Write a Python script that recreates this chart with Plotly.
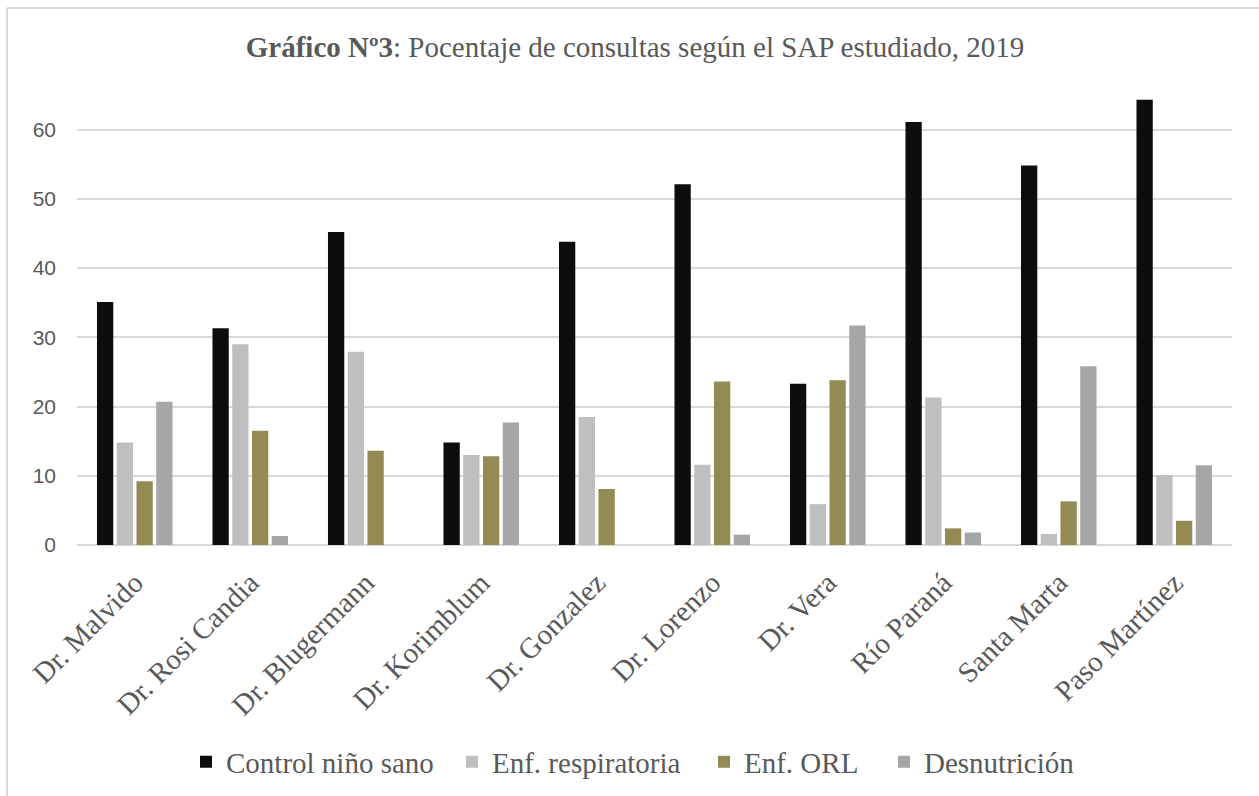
import plotly.graph_objects as go

categories = ["Dr. Malvido", "Dr. Rosi Candia", "Dr. Blugermann", "Dr. Korimblum",
              "Dr. Gonzalez", "Dr. Lorenzo", "Dr. Vera", "Río Paraná",
              "Santa Marta", "Paso Martínez"]
control_nino_sano = [35.1, 31.3, 45.2, 14.8, 43.8, 52.1, 23.3, 61.1, 54.8, 64.3]
enf_respiratoria = [14.8, 29.0, 27.9, 13.0, 18.5, 11.6, 5.9, 21.3, 1.6, 10.1]
enf_orl = [9.2, 16.5, 13.6, 12.8, 8.1, 23.6, 23.8, 2.4, 6.3, 3.5]
desnutricion = [20.7, 1.3, 0, 17.7, 0, 1.5, 31.7, 1.8, 25.8, 11.5]

series_names = ["Control niño sano", "Enf. respiratoria", "Enf. ORL", "Desnutrición"]
series_values = [control_nino_sano, enf_respiratoria, enf_orl, desnutricion]
series_colors = ["#0D0D0D", "#BFBFBF", "#948A54", "#A6A6A6"]
legend_text_px = [226, 492, 744, 924]

W, H = 1259, 796
L, R, T, B = 77, 27, 88, 251
plot_w = W - L - R
plot_h = H - T - B

def px_x(p):
    return (p - L) / plot_w

def px_y(p):
    return (H - B - p) / plot_h

serif = "Liberation Serif, Times New Roman, serif"
grey_text = "#595959"

fig = go.Figure()
legend_layouts = {}
for i, (name, vals, color) in enumerate(zip(series_names, series_values, series_colors)):
    lname = "legend" if i == 0 else f"legend{i+1}"
    fig.add_trace(go.Bar(x=categories, y=vals, name=name, legend=lname,
                         marker=dict(color=color, line=dict(width=0))))
    legend_layouts[lname] = dict(
        orientation="h", x=(legend_text_px[i] - 40) / W, xref="container", xanchor="left",
        y=1 - 762 / H, yref="container", yanchor="middle",
        font=dict(family=serif, size=29, color=grey_text),
        bgcolor="rgba(0,0,0,0)", borderwidth=0, itemwidth=30)

fig.update_layout(
    width=W, height=H,
    margin=dict(l=L, r=R, t=T, b=B),
    paper_bgcolor="white", plot_bgcolor="white",
    barmode="group", bargap=0.316, bargroupgap=0.175,
    title=dict(text="<b>Gráfico Nº3</b>: Pocentaje de consultas según el SAP estudiado, 2019",
               x=635 / W, xref="container", xanchor="center",
               y=1 - 47 / H, yref="container", yanchor="middle",
               font=dict(family=serif, size=29, color=grey_text)),
    font=dict(family=serif, color=grey_text),
    showlegend=True,
    xaxis=dict(tickangle=-45, tickfont=dict(family=serif, size=29, color=grey_text),
               showgrid=False, showline=False, ticks="", ticklabelstandoff=14),
    yaxis=dict(range=[0, 66], tickvals=[0, 10, 20, 30, 40, 50, 60],
               showgrid=True, gridcolor="#D9D9D9", gridwidth=1.5,
               zeroline=True, zerolinecolor="#D9D9D9", zerolinewidth=1.5,
               showline=False, ticks="", ticklabelstandoff=20,
               tickfont=dict(family="Liberation Sans, Arial, sans-serif", size=21, color=grey_text)),
    shapes=[
        dict(type="line", xref="paper", yref="paper",
             x0=px_x(7), x1=px_x(W + 5), y0=px_y(8), y1=px_y(8),
             line=dict(color="#D9D9D9", width=2)),
        dict(type="line", xref="paper", yref="paper",
             x0=px_x(7), x1=px_x(7), y0=px_y(8), y1=px_y(H + 5),
             line=dict(color="#D9D9D9", width=2)),
    ],
    **legend_layouts,
)

fig.write_html("out.html", config={"displayModeBar": False},
               post_script="document.body.style.margin='0px';document.body.style.overflow='hidden';")
